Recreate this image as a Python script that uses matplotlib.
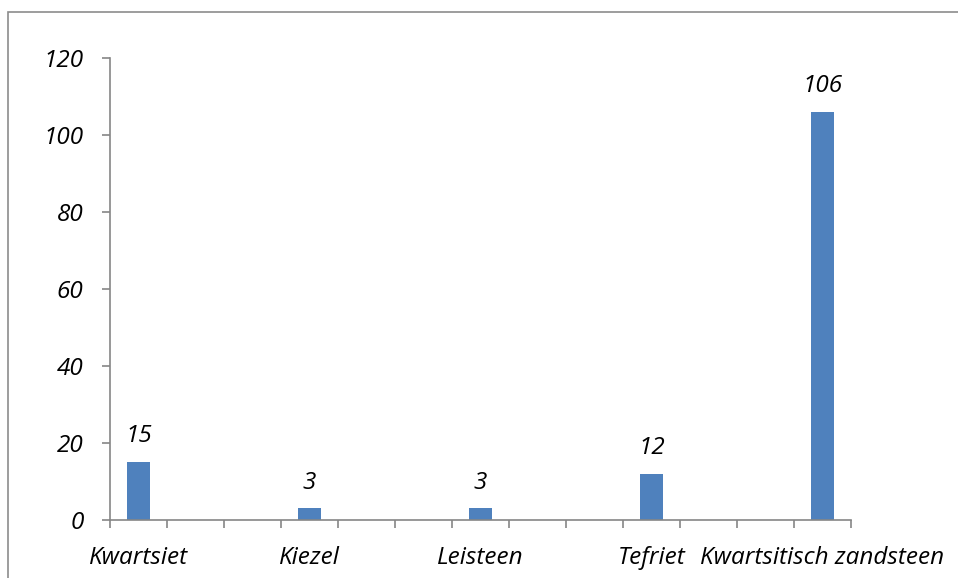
import matplotlib.pyplot as plt
from matplotlib.patches import Rectangle
import numpy as np

# 13 category slots, only every third one carries a name and a count
categories = ["Kwartsiet", "", "", "Kiezel", "", "", "Leisteen", "", "",
              "Tefriet", "", "", "Kwartsitisch zandsteen"]
counts = [15, None, None, 3, None, None, 3, None, None, 12, None, None, 106]
y_ticks = [0, 20, 40, 60, 80, 100, 120]

bar_color = "#4F81BD"
axis_color = "#868686"
fsize = 17.5

plt.rcParams["font.family"] = ["Open Sans", "DejaVu Sans"]
plt.rcParams["font.style"] = "italic"

W, H = 958, 578
fig = plt.figure(figsize=(W / 100, H / 100), dpi=100)

# outer chart frame (runs off the right and bottom edge)
fig.patches.append(Rectangle((8 / W, -0.1), 1.1, 1 - 12 / H + 0.1,
                             transform=fig.transFigure, fill=False,
                             edgecolor="#8C8C8C", linewidth=1.2))

ax = fig.add_axes([110 / W, 1 - 520 / H, (851 - 110) / W, (520 - 58) / H])

x = np.arange(len(categories))
for xi, (name, val) in enumerate(zip(categories, counts)):
    if val is None:
        continue
    ax.bar(xi, val, width=0.4, color=bar_color, edgecolor="none")
    ax.annotate(str(val), (xi, val), xytext=(0, 10), textcoords="offset points",
                ha="center", va="bottom", fontsize=fsize, style="italic")

ax.set_xlim(-0.5, len(categories) - 0.5)
ax.set_ylim(0, 120)
ax.set_yticks(y_ticks)
ax.set_yticklabels([str(t) for t in y_ticks], fontsize=fsize, style="italic")

# boundary ticks on the category axis, names sit on minor ticks
ax.set_xticks(np.arange(len(categories) + 1) - 0.5)
ax.set_xticklabels([])
named = [i for i, c in enumerate(categories) if c]
ax.set_xticks(named, minor=True)
ax.set_xticklabels([categories[i] for i in named], minor=True,
                   fontsize=fsize, style="italic")

ax.tick_params(axis="x", which="major", length=6, width=1.2, color=axis_color,
               direction="out")
ax.tick_params(axis="x", which="minor", length=0, pad=19)
ax.tick_params(axis="y", length=6, width=1.2, color=axis_color, pad=13)

for side in ("top", "right"):
    ax.spines[side].set_visible(False)
for side in ("left", "bottom"):
    ax.spines[side].set_color(axis_color)
    ax.spines[side].set_linewidth(1.2)

fig.savefig("out.png", dpi=100)
